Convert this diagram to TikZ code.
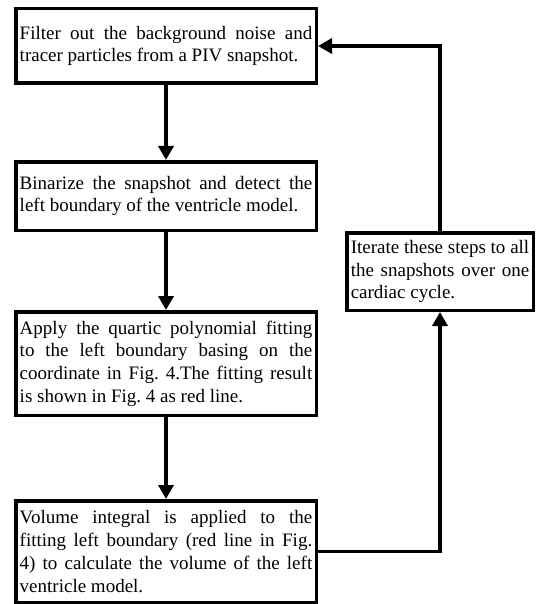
\documentclass[tikz,border=0pt]{standalone}
\usepackage{fontspec}
\setmainfont{Liberation Serif}
\usetikzlibrary{arrows.meta}
\frenchspacing
\hyphenpenalty=10000
\tolerance=10000
\begin{document}
\begin{tikzpicture}[x=1pt,y=-1pt,
    box/.style={draw,line width=3.5pt,align=justify,inner xsep=4pt,inner ysep=2pt,
      font=\fontsize{19}{22.7}\selectfont},
    leftbox/.style={box,text width=292.5pt},
    rightbox/.style={box,text width=178.5pt}]
      \useasboundingbox (0,0) rectangle (537,604);
      \draw
        (166,46) node[leftbox,minimum height=74.5pt] (filter){Filter out the background noise and\linebreak tracer particles from a PIV snapshot.}
        (166,196) node[leftbox,minimum height=68.5pt] (binarize){Binarize the snapshot and detect the\linebreak left boundary of the ventricle model.}
        (166,363.5) node[leftbox,minimum height=103.5pt] (fit){Apply the quartic polynomial fitting\linebreak to the left boundary basing on the\linebreak coordinate in Fig. 4.The fitting result\linebreak is shown in Fig. 4 as red line.}
        (166,551.5) node[leftbox,minimum height=101.5pt] (volume){Volume integral is applied to the\linebreak fitting left boundary (red line in Fig.\linebreak 4) to calculate the volume of the left\linebreak ventricle model.}
        (440,271.5) node[rightbox,minimum height=77.5pt] (iterate){Iterate these steps to all\linebreak the snapshots over one\linebreak cardiac cycle.};
      \begin{scope}[line width=3.5pt,-{Triangle[length=14pt,width=15pt]}]
        \draw (filter) to (binarize);
        \draw (binarize) to (fit);
        \draw (fit) to (volume);
        \draw (volume.east) -| (iterate.south);
        \draw (iterate.north) |- (filter.east);
      \end{scope}
    \end{tikzpicture}
\end{document}
